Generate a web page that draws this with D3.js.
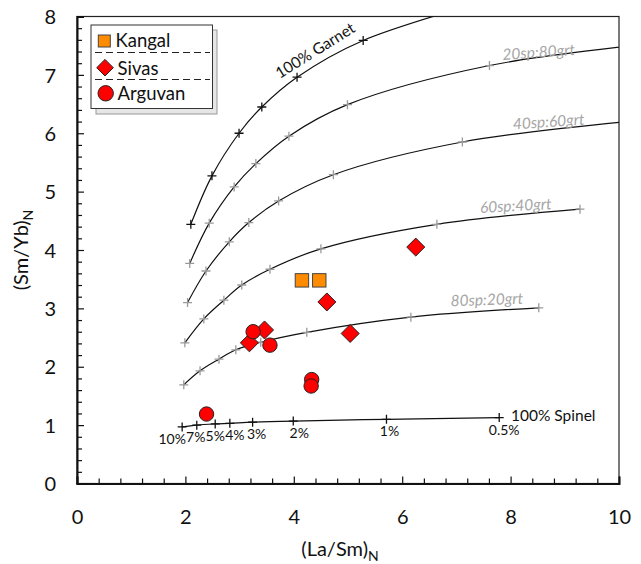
<!DOCTYPE html>
<html>
<head>
<meta charset="utf-8">
<script src="https://cdn.jsdelivr.net/npm/d3@7/dist/d3.min.js"></script>
<style>
  html, body { margin: 0; padding: 0; background: #fff; }
  svg { display: block; font-family: Lato, "Noto Sans", sans-serif; }
</style>
</head>
<body>
<svg id="chart" width="641" height="564"></svg>
<script>
// Partial-melting curves: (La/Sm)N and (Sm/Yb)N at each melt fraction
const meltLabels = ["10%", "7%", "5%", "4%", "3%", "2%", "1%", "0.5%"];

const garnetX = [2.10, 2.49, 2.99, 3.41, 4.06, 5.28, 8.05];
const garnetY = [4.44, 5.27, 6.00, 6.45, 6.96, 7.59, 8.40];

const sp20X = [2.08, 2.44, 2.90, 3.30, 3.91, 4.99, 7.61, 10.45];
const sp20Y = [3.77, 4.46, 5.08, 5.48, 5.95, 6.49, 7.16, 7.52];

const sp40X = [2.04, 2.38, 2.81, 3.17, 3.72, 4.73, 7.11, 10.15];
const sp40Y = [3.10, 3.64, 4.14, 4.47, 4.84, 5.29, 5.85, 6.20];

const sp60X = [1.99, 2.34, 2.71, 3.04, 3.56, 4.50, 6.64, 9.28];
const sp60Y = [2.41, 2.82, 3.14, 3.40, 3.67, 4.02, 4.44, 4.70];

const sp80X = [1.97, 2.27, 2.62, 2.93, 3.39, 4.24, 6.16, 8.52];
const sp80Y = [1.69, 1.93, 2.13, 2.29, 2.42, 2.59, 2.85, 3.01];

const spinelX = [1.94, 2.21, 2.55, 2.82, 3.24, 3.99, 5.71, 7.79];
const spinelY = [0.97, 1.00, 1.02, 1.03, 1.05, 1.07, 1.10, 1.13];

// Samples
const kangalX = [4.15, 4.47];
const kangalY = [3.48, 3.48];

const sivasX = [4.61, 6.25, 3.46, 3.18, 5.04];
const sivasY = [3.11, 4.05, 2.63, 2.41, 2.57];

const arguvanX = [3.25, 3.56, 4.33, 4.32, 2.39];
const arguvanY = [2.60, 2.37, 1.78, 1.67, 1.19];

const xMajorTicks = [0, 2, 4, 6, 8, 10];
const yMajorTicks = [0, 1, 2, 3, 4, 5, 6, 7, 8];

const seriesNames = ["Kangal", "Sivas", "Arguvan"];

// ---------------------------------------------------------------
const svg = d3.select("#chart");
const L = 77, R = 619, T = 16.5, B = 483.5;

const x = d3.scaleLinear().domain([0, 10]).range([L, R]);
const y = d3.scaleLinear().domain([0, 8]).range([B, T]);

const zip = (xs, ys) => xs.map((v, i) => [v, ys[i]]);

svg.append("defs").append("clipPath").attr("id", "plotClip")
  .append("rect").attr("x", L).attr("y", T).attr("width", R - L).attr("height", B - T);

// frame
svg.append("rect").attr("x", L).attr("y", T).attr("width", R - L).attr("height", B - T)
  .attr("fill", "none").attr("stroke", "#222").attr("stroke-width", 1.2);

// minor ticks
const xMinor = d3.range(0, 10.001, 0.4).filter(v => !xMajorTicks.some(m => Math.abs(m - v) < 1e-6));
const yMinor = d3.range(0, 8.001, 0.2).filter(v => !yMajorTicks.some(m => Math.abs(m - v) < 1e-6));

const xAxis = svg.append("g").attr("transform", `translate(0,${B})`)
  .call(d3.axisBottom(x).tickValues(xMajorTicks).tickSize(-7).tickPadding(26).tickFormat(d3.format("d")));
svg.append("g").attr("transform", `translate(0,${B})`)
  .call(d3.axisBottom(x).tickValues(xMinor).tickSize(-5).tickFormat(""))
  .call(g => g.select(".domain").remove());

const yAxis = svg.append("g").attr("transform", `translate(${L},0)`)
  .call(d3.axisLeft(y).tickValues(yMajorTicks).tickSize(-7).tickPadding(21).tickFormat(d3.format("d")));
svg.append("g").attr("transform", `translate(${L},0)`)
  .call(d3.axisLeft(y).tickValues(yMinor).tickSize(-5).tickFormat(""))
  .call(g => g.select(".domain").remove());

svg.selectAll(".tick line").attr("stroke", "#111").attr("stroke-width", 1.2);
[xAxis, yAxis].forEach(g => {
  g.select(".domain").attr("stroke", "#111").attr("stroke-width", 2);
  g.selectAll(".tick text").attr("font-size", 20).attr("font-family", "Lato, sans-serif").attr("fill", "#111");
});
yAxis.selectAll(".tick text").attr("dy", "0.36em");

// axis titles
const xt = svg.append("text").attr("x", 340).attr("y", 556).attr("text-anchor", "middle")
  .attr("font-size", 20).attr("fill", "#111");
xt.append("tspan").text("(La/Sm)");
xt.append("tspan").attr("font-size", 14).attr("dy", 5).text("N");

const yt = svg.append("text").attr("transform", "translate(28,250) rotate(-90)").attr("text-anchor", "middle")
  .attr("font-size", 20).attr("fill", "#111");
yt.append("tspan").text("(Sm/Yb)");
yt.append("tspan").attr("font-size", 14).attr("dy", 5).text("N");

// melting curves
const curves = [
  { pts: zip(garnetX, garnetY), cross: "#111" },
  { pts: zip(sp20X, sp20Y), cross: "#9a9a9a" },
  { pts: zip(sp40X, sp40Y), cross: "#9a9a9a" },
  { pts: zip(sp60X, sp60Y), cross: "#9a9a9a" },
  { pts: zip(sp80X, sp80Y), cross: "#9a9a9a" },
  { pts: zip(spinelX, spinelY), cross: "#111" }
];

const line = d3.line().x(d => x(d[0])).y(d => y(d[1])).curve(d3.curveCatmullRom.alpha(0.5));
const plot = svg.append("g").attr("clip-path", "url(#plotClip)");

curves.forEach(c => {
  plot.append("path").attr("d", line(c.pts)).attr("fill", "none")
    .attr("stroke", "#111").attr("stroke-width", 1.2);
  const cr = 4.5;
  c.pts.forEach(p => {
    const g = plot.append("g").attr("transform", `translate(${x(p[0])},${y(p[1])})`)
      .attr("stroke", c.cross).attr("stroke-width", 1.3);
    g.append("line").attr("x1", -cr).attr("x2", cr);
    g.append("line").attr("y1", -cr).attr("y2", cr);
  });
});

// melt fraction labels under the spinel curve
const meltDx = [-10, -1, 0, 5, 4, 6, 3, 5];
svg.append("g").selectAll("text").data(meltLabels).join("text")
  .attr("x", (d, i) => x(spinelX[i]) + meltDx[i])
  .attr("y", (d, i) => y(spinelY[i]) + 17)
  .attr("text-anchor", "middle").attr("font-size", 14).attr("fill", "#111")
  .text(d => d);

// curve names
svg.append("text").attr("transform", "translate(318,55) rotate(-32)").attr("text-anchor", "middle")
  .attr("font-size", 15.5).attr("fill", "#111").text("100% Garnet");
svg.append("text").attr("x", 511).attr("y", 420.5).attr("font-size", 15.5).attr("fill", "#111").text("100% Spinel");

const grayLab = [
  { t: "20sp:80grt", cx: 539, cy: 57.5, a: -4 },
  { t: "40sp:60grt", cx: 549, cy: 127, a: -4 },
  { t: "60sp:40grt", cx: 516, cy: 211, a: -3 },
  { t: "80sp:20grt", cx: 487, cy: 305, a: -2 }
];
grayLab.forEach(l => {
  svg.append("text").attr("transform", `translate(${l.cx},${l.cy}) rotate(${l.a})`)
    .attr("text-anchor", "middle").attr("font-size", 15.5).attr("font-style", "italic")
    .attr("fill", "#a6a6a6").text(l.t);
});

// sample markers
const diamond = (cx, cy, r) => `M${cx},${cy - r}L${cx + r},${cy}L${cx},${cy + r}L${cx - r},${cy}Z`;
const marks = svg.append("g");

zip(kangalX, kangalY).forEach(p => {
  marks.append("rect").attr("x", x(p[0]) - 6.7).attr("y", y(p[1]) - 6.7)
    .attr("width", 13.4).attr("height", 13.4)
    .attr("fill", "#ff8c00").attr("stroke", "#444").attr("stroke-width", 1);
});
zip(sivasX, sivasY).forEach(p => {
  marks.append("path").attr("d", diamond(x(p[0]), y(p[1]), 9))
    .attr("fill", "#ff0000").attr("stroke", "#222").attr("stroke-width", 1);
});
zip(arguvanX, arguvanY).forEach(p => {
  marks.append("circle").attr("cx", x(p[0])).attr("cy", y(p[1])).attr("r", 7.2)
    .attr("fill", "#ff0000").attr("stroke", "#222").attr("stroke-width", 1);
});

// legend
const lg = svg.append("g");
lg.append("rect").attr("x", 96).attr("y", 30).attr("width", 121).attr("height", 84)
  .attr("fill", "#e6e6e6").attr("stroke", "#999").attr("stroke-width", 1);
lg.append("rect").attr("x", 91).attr("y", 25).attr("width", 121.5).attr("height", 83.5)
  .attr("fill", "#fff").attr("stroke", "#333").attr("stroke-width", 1);
[52.5, 79.5].forEach(yy => {
  lg.append("line").attr("x1", 95).attr("x2", 210).attr("y1", yy).attr("y2", yy)
    .attr("stroke", "#222").attr("stroke-width", 1).attr("stroke-dasharray", "7,4");
});
lg.append("rect").attr("x", 98.3).attr("y", 35).attr("width", 12).attr("height", 12)
  .attr("fill", "#ff8c00").attr("stroke", "#444").attr("stroke-width", 1);
lg.append("path").attr("d", diamond(105, 67.7, 8.3))
  .attr("fill", "#ff0000").attr("stroke", "#222").attr("stroke-width", 1);
lg.append("circle").attr("cx", 105.7).attr("cy", 93.3).attr("r", 7.7)
  .attr("fill", "#ff0000").attr("stroke", "#222").attr("stroke-width", 1);
const legY = [47, 74.5, 99.8];
lg.selectAll("text.lab").data(seriesNames).join("text").attr("class", "lab")
  .attr("x", (d, i) => i === 0 ? 115.5 : 117.5)
  .attr("y", (d, i) => legY[i])
  .attr("font-size", 18.5).attr("fill", "#111").text(d => d);
</script>
</body>
</html>
